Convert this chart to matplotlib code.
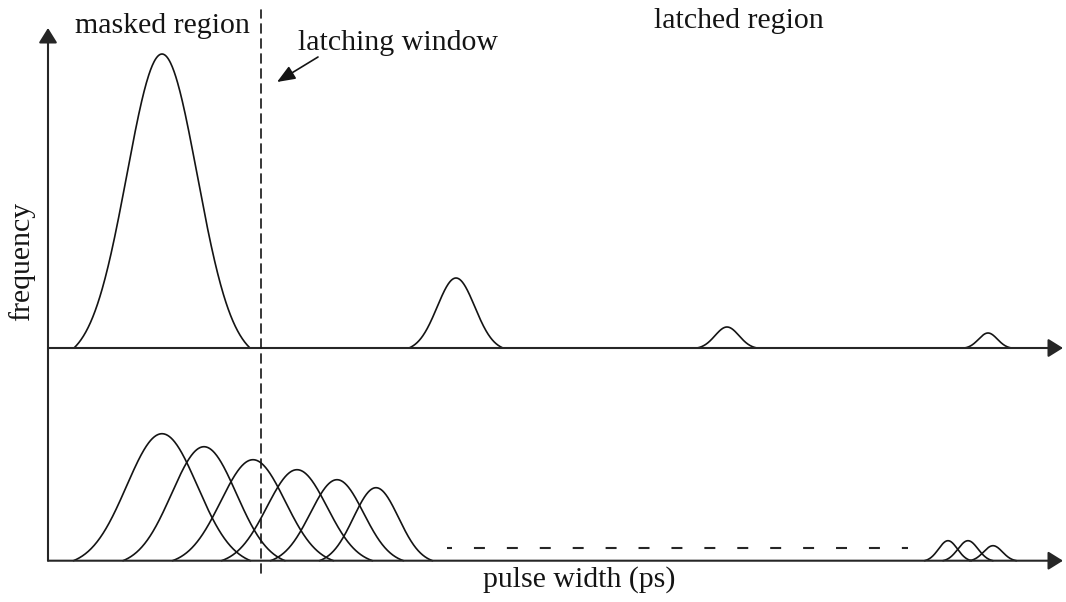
import numpy as np
import matplotlib
matplotlib.use("Agg")
import matplotlib.pyplot as plt
from matplotlib.patches import ConnectionPatch

plt.rcParams["font.family"] = ["Liberation Serif", "DejaVu Serif"]
plt.rcParams["lines.scale_dashes"] = False

# ---- data -------------------------------------------------------------
# upper panel: pulse-width distributions after propagation
top_centers = [11.4, 40.8, 67.9, 94.0]
top_heights = [2.94, 0.70, 0.21, 0.15]
top_halfwidths = [8.8, 4.7, 3.0, 2.35]

# lower panel: distributions spread through the logic cone
bottom_centers = [11.4, 15.6, 20.5, 24.9, 28.9, 32.8]
bottom_heights = [1.27, 1.14, 1.01, 0.91, 0.81, 0.73]
bottom_halfwidths = [8.85, 8.1, 8.05, 7.55, 6.65, 5.65]

tail_centers = [90.0, 92.0, 94.5]
tail_heights = [0.20, 0.20, 0.15]
tail_halfwidths = [2.35, 2.5, 2.35]

gap_start, gap_end, gap_level = 39.9, 86.0, 0.127   # "..." between groups
window_x = 21.3                                     # latching window

labels = {
    "masked": "masked region",
    "latched": "latched region",
    "window": "latching window",
    "ylabel": "frequency",
    "xlabel": "pulse width (ps)",
}

# ---- figure layout ----------------------------------------------------
W, H = 1066, 602
fig = plt.figure(figsize=(W / 100, H / 100), dpi=100)
base_top = 348.0
base_bot = 560.7
ax_top = fig.add_axes([0, (H - base_top) / H, 1, base_top / H])
ax_bot = fig.add_axes([0, (H - base_bot) / H, 1, (base_bot - base_top) / H])
xlim = (-4.8, (W - 48) / 10)
for ax in (ax_top, ax_bot):
    ax.set_xlim(*xlim)
    ax.set_axis_off()
ax_top.set_ylim(0, base_top / 100)
ax_bot.set_ylim(0, (base_bot - base_top) / 100)

INK = "#141414"
AXC = "#262626"


def bump(ax, c, h, hw, k=2.5):
    x = np.linspace(c - hw, c + hw, 300)
    s = hw / k
    g = np.exp(-0.5 * ((x - c) / s) ** 2)
    e = np.exp(-0.5 * k ** 2)
    y = h * (g - e) / (1 - e)
    ax.plot(x, y, color=INK, lw=1.2, clip_on=False, solid_capstyle="round")


for c, h, hw in zip(top_centers, top_heights, top_halfwidths):
    bump(ax_top, c, h, hw)
for c, h, hw in zip(bottom_centers, bottom_heights, bottom_halfwidths):
    bump(ax_bot, c, h, hw)
for c, h, hw in zip(tail_centers, tail_heights, tail_halfwidths):
    bump(ax_bot, c, h, hw)

# dashed continuation between the two groups
ax_bot.plot([gap_start, gap_end], [gap_level, gap_level], color=AXC, lw=1.5,
            linestyle=(4.3, (7.9, 15.8)), clip_on=False)

# axes with arrow heads
arrow_kw = dict(arrowstyle="-|>,head_length=0.45,head_width=0.28",
                mutation_scale=20, color=AXC, lw=1.5, shrinkA=0, shrinkB=0)
x_tip = (1063 - 48) / 10
for ax in (ax_top, ax_bot):
    ax.annotate("", xy=(x_tip, 0), xytext=(0, 0), xycoords="data",
                textcoords="data", arrowprops=arrow_kw, annotation_clip=False)

y_tip = (base_top - 28) / 100
ax_top.annotate("", xy=(0, y_tip), xycoords=ax_top.transData,
                xytext=(0, 0), textcoords=ax_bot.transData,
                arrowprops=arrow_kw, annotation_clip=False)

# latching window marker spanning both panels
win = ConnectionPatch(xyA=(window_x, -(573 - base_bot) / 100), coordsA=ax_bot.transData,
                      xyB=(window_x, (base_top - 10) / 100), coordsB=ax_top.transData,
                      color=INK, lw=1.2, linestyle=(0, (6.5, 4.3)))
fig.add_artist(win)

# annotations
fs = 21.5
ax_top.text(11.45, (base_top - 33) / 100, labels["masked"], ha="center",
            va="baseline", fontsize=fs, color=INK)
ax_top.text(69.1, (base_top - 28) / 100, labels["latched"], ha="center",
            va="baseline", fontsize=fs, color=INK)
ax_top.text(34.95, (base_top - 50) / 100, labels["window"], ha="center",
            va="baseline", fontsize=fs, color=INK)
ax_top.annotate("", xy=(22.9, (base_top - 82) / 100),
                xytext=(27.0, (base_top - 57) / 100),
                arrowprops=dict(arrowstyle="-|>,head_length=0.55,head_width=0.22",
                                mutation_scale=20, color=INK, lw=1.2,
                                shrinkA=0, shrinkB=0),
                annotation_clip=False)
ax_top.text(-2.6, (base_top - 261) / 100, labels["ylabel"], rotation=90,
            ha="center", va="center", fontsize=fs, color=INK)
ax_bot.text(53.15, -(587 - base_bot) / 100, labels["xlabel"], ha="center",
            va="baseline", fontsize=fs, color=INK)

fig.savefig("out.png", dpi=100, facecolor="white")
